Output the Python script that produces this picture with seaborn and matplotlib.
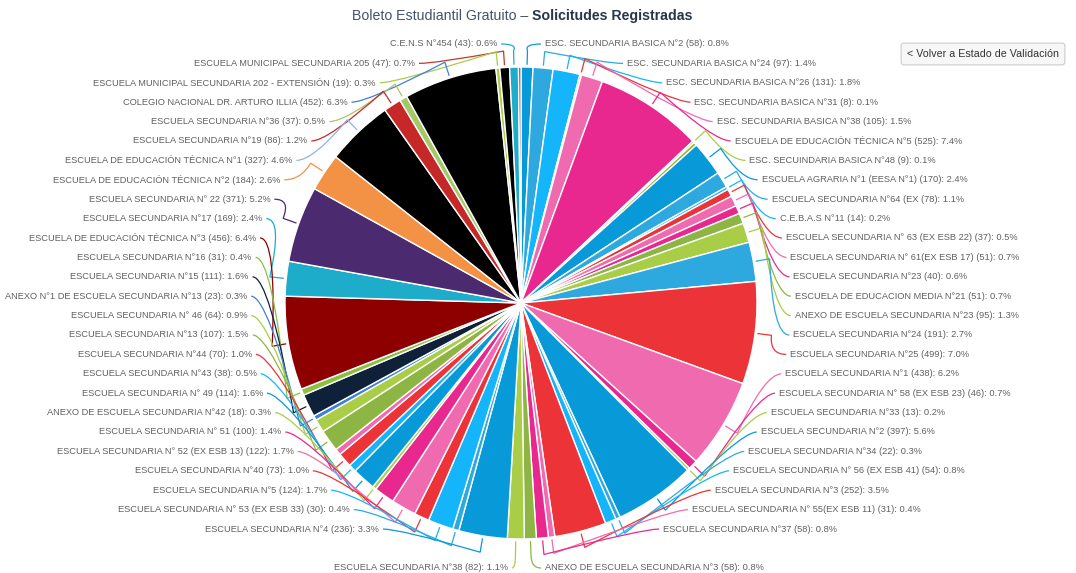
import numpy as np
import matplotlib
matplotlib.use("Agg")
import matplotlib.pyplot as plt
import seaborn as sns
from matplotlib.path import Path
from matplotlib.patches import PathPatch

sns.set_theme(style="white")
plt.rcParams['font.family'] = ['Liberation Sans', 'DejaVu Sans']

# ---------------- data (clockwise from 12 o'clock) ----------------
escuelas = [
    "ESC. SECUNDARIA BASICA N°2", "ESC. SECUNDARIA BASICA N°24", "ESC. SECUNDARIA BASICA N°26",
    "ESC. SECUNDARIA BASICA N°31", "ESC. SECUNDARIA BASICA N°38", "ESCUELA DE EDUCACIÓN TÉCNICA N°5",
    "ESC. SECUINDARIA BASICA N°48", "", "ESCUELA AGRARIA N°1 (EESA N°1)",
    "ESCUELA SECUNDARIA N°64 (EX", "C.E.B.A.S N°11", "ESCUELA SECUNDARIA N° 63 (EX ESB 22)",
    "ESCUELA SECUNDARIA N° 61(EX ESB 17)", "ESCUELA SECUNDARIA N°23", "ESCUELA DE EDUCACION MEDIA N°21",
    "ANEXO DE ESCUELA SECUNDARIA N°23", "ESCUELA SECUNDARIA N°24", "ESCUELA SECUNDARIA N°25",
    "ESCUELA SECUNDARIA N°1", "ESCUELA SECUNDARIA N° 58 (EX ESB 23)", "ESCUELA SECUNDARIA N°33",
    "ESCUELA SECUNDARIA N°2", "ESCUELA SECUNDARIA N°34", "ESCUELA SECUNDARIA N° 56 (EX ESB 41)",
    "ESCUELA SECUNDARIA N°3", "ESCUELA SECUNDARIA N° 55(EX ESB 11)", "ESCUELA SECUNDARIA N°37",
    "ANEXO DE ESCUELA SECUNDARIA N°3", "ESCUELA SECUNDARIA N°38", "ESCUELA SECUNDARIA N°4",
    "ESCUELA SECUNDARIA N° 53 (EX ESB 33)", "ESCUELA SECUNDARIA N°5", "ESCUELA SECUNDARIA N°40",
    "ESCUELA SECUNDARIA N° 52 (EX ESB 13)", "ESCUELA SECUNDARIA N° 51", "ANEXO DE ESCUELA SECUNDARIA N°42",
    "ESCUELA SECUNDARIA N° 49", "ESCUELA SECUNDARIA N°43", "ESCUELA SECUNDARIA N°44",
    "", "ESCUELA SECUNDARIA N°13", "ESCUELA SECUNDARIA N° 46",
    "ANEXO N°1 DE ESCUELA SECUNDARIA N°13", "ESCUELA SECUNDARIA N°15", "ESCUELA SECUNDARIA N°16",
    "ESCUELA DE EDUCACIÓN TÉCNICA N°3", "ESCUELA SECUNDARIA N°17", "ESCUELA SECUNDARIA N° 22",
    "ESCUELA DE EDUCACIÓN TÉCNICA N°2", "ESCUELA DE EDUCACIÓN TÉCNICA N°1", "ESCUELA SECUNDARIA N°19",
    "ESCUELA SECUNDARIA N°36", "COLEGIO NACIONAL DR. ARTURO ILLIA", "ESCUELA MUNICIPAL SECUNDARIA 202 - EXTENSIÓN",
    "ESCUELA MUNICIPAL SECUNDARIA 205", "C.E.N.S N°454", "",
]
solicitudes = [
    58, 97, 131, 8, 105, 525, 9, 16, 170, 78, 14, 37, 51, 40, 51, 95, 191, 499, 438, 46, 13,
    397, 22, 54, 252, 31, 58, 58, 82, 236, 30, 124, 73, 122, 100, 18, 114, 38, 70, 30, 107, 64,
    23, 111, 31, 456, 169, 371, 184, 327, 86, 37, 452, 19, 47, 43, 12,
]
porcentajes = [
    "0.8", "1.4", "1.8", "0.1", "1.5", "7.4", "0.1", "", "2.4", "1.1", "0.2", "0.5", "0.7", "0.6",
    "0.7", "1.3", "2.7", "7.0", "6.2", "0.7", "0.2", "5.6", "0.3", "0.8", "3.5", "0.4", "0.8", "0.8",
    "1.1", "3.3", "0.4", "1.7", "1.0", "1.7", "1.4", "0.3", "1.6", "0.5", "1.0", "", "1.5", "0.9",
    "0.3", "1.6", "0.4", "6.4", "2.4", "5.2", "2.6", "4.6", "1.2", "0.5", "6.3", "0.3", "0.7", "0.6", "",
]
AZ, CE, CI, RO, RS, MA, OL, VE = ("#0799d8", "#2ea9df", "#14b5fb", "#ec3338",
                                  "#f06ab0", "#e8288f", "#8cb544", "#a9cd47")
colores = [
    AZ, CE, CI, RO, RS, MA, VE, OL, AZ, CE, CI, RO, RS, MA, OL, VE, CE, RO, RS, MA, VE,
    AZ, CE, CI, RO, RS, MA, OL, VE, AZ, CE, CI, RO, RS, MA, VE, AZ, CI, RO, RS, OL, VE,
    "#3f7fd8", "#0f2139", "#8cbf3f", "#8e0000", "#1dacca", "#4b2a70", "#f39244", "#000000",
    "#c62828", "#a5c866", "#000000", VE, "#000000", "#1dacca", "#5a3d8e",
]
# connector colours differ from the fill only for the black slices
conectores = list(colores)
conectores[49] = "#8ab4e8"
conectores[52] = "#3f7fd8"
conectores[54] = "#c0392b"

# ---------------- geometry (pixels) ----------------
W, H = 1076, 573
CX, CY, R = 521, 303, 236
LAB_CY, LAB_A, LAB_B = 305, 274, 262
TOP_Y, BOT_Y, BOTTOM_ROW = 44, 529, 568

fig = plt.figure(figsize=(W / 100, H / 100), dpi=100)
fig.patch.set_facecolor("white")
ax = fig.add_axes([0, 0, 1, 1])

wedges, _ = ax.pie(solicitudes, colors=colores, startangle=90, counterclock=False,
                   radius=1, center=(0, 0),
                   wedgeprops=dict(edgecolor="white", linewidth=1.0))
ax.set_aspect("auto")
ax.set_xlim(-CX / R, (W - CX) / R)
ax.set_ylim(-(H - CY) / R, CY / R)
ax.axis("off")


def px(x):
    return (x - CX) / R


def py(y):
    return (CY - y) / R


vals = np.array(solicitudes, dtype=float)
cum = np.cumsum(vals) - vals / 2
theta = cum / vals.sum() * 2 * np.pi   # clockwise from top

labeled = [i for i, n in enumerate(escuelas) if n]
bottom = sorted(labeled, key=lambda i: abs(theta[i] - np.pi))[:2]
right = sorted([i for i in labeled if theta[i] < np.pi and i not in bottom], key=lambda i: theta[i])
left = sorted([i for i in labeled if theta[i] > np.pi and i not in bottom], key=lambda i: -theta[i])

txt_kw = dict(fontsize=6.7, color="#606060", va="center")


def label_text(i):
    return f"{escuelas[i]} ({solicitudes[i]}): {porcentajes[i]}%"


def connector(i, lx, ly, side, vertical=False):
    t = theta[i]
    p0 = (np.sin(t) * 1.01, np.cos(t) * 1.01)
    p1 = (np.sin(t) * 1.07, np.cos(t) * 1.07)
    end = (lx - side * 4 / R, ly)
    if vertical:
        ctrl = (p1[0], ly)
    else:
        ctrl = (end[0] - side * 0.07, ly)
    path = Path([p0, p1, ctrl, end], [Path.MOVETO, Path.LINETO, Path.CURVE3, Path.CURVE3])
    ax.add_patch(PathPatch(path, fc="none", ec=conectores[i], lw=0.9, zorder=1))


for side, group in ((1, right), (-1, left)):
    ys = np.linspace(TOP_Y, BOT_Y, len(group))
    for i, yy in zip(group, ys):
        dy = yy - LAB_CY
        off = LAB_A * np.sqrt(max(0.0, 1 - (dy / LAB_B) ** 2))
        off = max(off, 20)
        lx, ly = px(CX + side * off), py(yy)
        ax.text(lx, ly, label_text(i), ha="left" if side > 0 else "right", **txt_kw)
        connector(i, lx, ly, side)

for i in bottom:
    side = 1 if theta[i] < np.pi else -1
    lx = px(CX + (24 if side > 0 else -13))
    ly = py(BOTTOM_ROW)
    ax.text(lx, ly, label_text(i), ha="left" if side > 0 else "right", **txt_kw)
    connector(i, lx, ly, side, vertical=True)

# ---------------- title ----------------
t1 = fig.text(0, 1 - 16 / H, "Boleto Estudiantil Gratuito –", fontsize=10.2,
              color="#44536a", va="center", ha="left")
t2 = fig.text(0, 1 - 16 / H, "Solicitudes Registradas", fontsize=10.2, fontweight="bold",
              color="#27364b", va="center", ha="left")
fig.canvas.draw()
r = fig.canvas.get_renderer()
w1 = t1.get_window_extent(r).width
w2 = t2.get_window_extent(r).width
gap = 4
x0 = 522 - (w1 + gap + w2) / 2
t1.set_x(x0 / W)
t2.set_x((x0 + w1 + gap) / W)

# ---------------- button ----------------
fig.text(983 / W, 1 - 54 / H, "< Volver a Estado de Validación", fontsize=7.7, color="#333333",
         ha="center", va="center",
         bbox=dict(boxstyle="round,pad=0.55,rounding_size=0.25", fc="#f7f7f7", ec="#cccccc", lw=0.8))

fig.savefig("out.png", dpi=100, facecolor="white")
